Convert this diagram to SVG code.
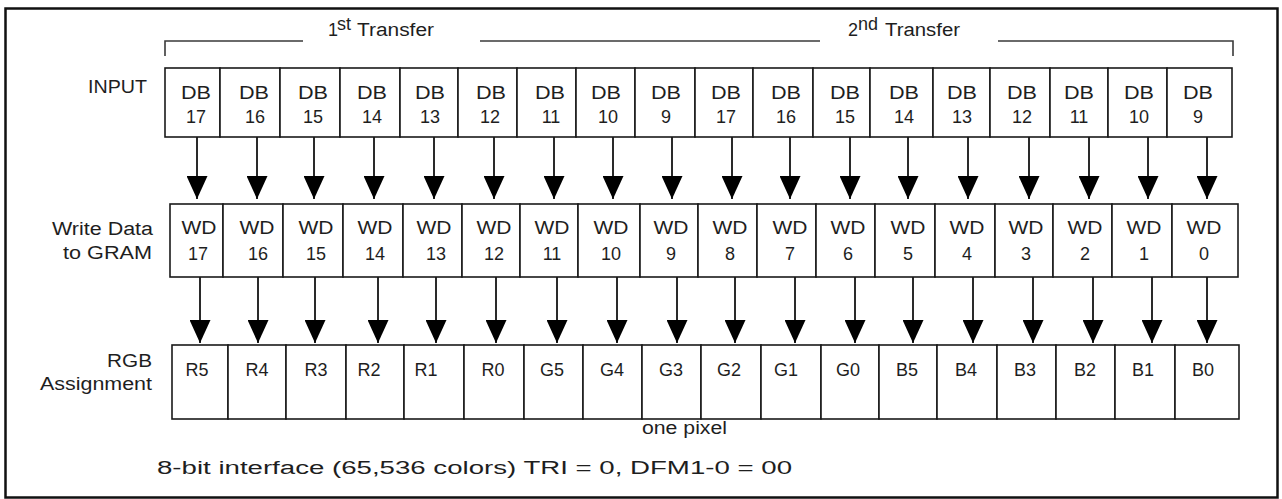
<svg xmlns="http://www.w3.org/2000/svg" width="1282" height="499" viewBox="0 0 1282 499">
<style>
.cell{fill:#fff;stroke:#1a1a1a;stroke-width:1.6}
.t{font-family:"Liberation Sans",Arial,sans-serif;font-size:18px;fill:#1e1e1e;text-anchor:middle}
.lab{font-family:"Liberation Sans",Arial,sans-serif;font-size:18px;fill:#1e1e1e}
.con{stroke:#2a2a2a;stroke-width:2;fill:none}
.br{stroke:#3a3a3a;stroke-width:1.6;fill:none}
</style>
<defs>
<marker id="ah" markerUnits="userSpaceOnUse" markerWidth="23" markerHeight="21" viewBox="0 0 23 21" refX="23" refY="10.5" orient="auto">
<path d="M0,0 L23,10.5 L0,21 Z" fill="#000"/>
</marker>
</defs>
<rect x="0" y="0" width="1282" height="499" fill="#fff"/>
<rect x="5.5" y="8.5" width="1272" height="489" fill="none" stroke="#111" stroke-width="2.5"/>

<g id="brackets">
<path class="br" d="M165,56 V41 H303"/>
<path class="br" d="M480,41 H820"/>
<path class="br" d="M998,41 H1233 V56"/>
<text class="lab" x="328" y="36" font-size="16">1</text>
<text class="lab" x="337" y="30" font-size="10">st</text>
<text class="lab" x="357" y="36" font-size="16" textLength="77" lengthAdjust="spacingAndGlyphs">Transfer</text>
<text class="lab" x="848" y="36" font-size="16">2</text>
<text class="lab" x="858" y="30" font-size="10">nd</text>
<text class="lab" x="885" y="36" font-size="16" textLength="75" lengthAdjust="spacingAndGlyphs">Transfer</text>
</g>

<g id="row-labels">
<text class="lab" x="88" y="93" textLength="59" lengthAdjust="spacingAndGlyphs">INPUT</text>
<text class="lab" x="52" y="235" textLength="101" lengthAdjust="spacingAndGlyphs">Write Data</text>
<text class="lab" x="63" y="259" textLength="89" lengthAdjust="spacingAndGlyphs">to GRAM</text>
<text class="lab" x="107" y="367" textLength="45" lengthAdjust="spacingAndGlyphs">RGB</text>
<text class="lab" x="40" y="390" textLength="112" lengthAdjust="spacingAndGlyphs">Assignment</text>
</g>

<g id="connectors">
<line class="con" x1="197" y1="137" x2="197" y2="199" marker-end="url(#ah)"/>
<line class="con" x1="257" y1="137" x2="257" y2="199" marker-end="url(#ah)"/>
<line class="con" x1="314" y1="137" x2="314" y2="199" marker-end="url(#ah)"/>
<line class="con" x1="374" y1="137" x2="374" y2="199" marker-end="url(#ah)"/>
<line class="con" x1="434" y1="137" x2="434" y2="199" marker-end="url(#ah)"/>
<line class="con" x1="494" y1="137" x2="494" y2="199" marker-end="url(#ah)"/>
<line class="con" x1="554" y1="137" x2="554" y2="199" marker-end="url(#ah)"/>
<line class="con" x1="613" y1="137" x2="613" y2="199" marker-end="url(#ah)"/>
<line class="con" x1="672" y1="137" x2="672" y2="199" marker-end="url(#ah)"/>
<line class="con" x1="732" y1="137" x2="732" y2="199" marker-end="url(#ah)"/>
<line class="con" x1="790" y1="137" x2="790" y2="199" marker-end="url(#ah)"/>
<line class="con" x1="850" y1="137" x2="850" y2="199" marker-end="url(#ah)"/>
<line class="con" x1="908" y1="137" x2="908" y2="199" marker-end="url(#ah)"/>
<line class="con" x1="968" y1="137" x2="968" y2="199" marker-end="url(#ah)"/>
<line class="con" x1="1029" y1="137" x2="1029" y2="199" marker-end="url(#ah)"/>
<line class="con" x1="1089" y1="137" x2="1089" y2="199" marker-end="url(#ah)"/>
<line class="con" x1="1148" y1="137" x2="1148" y2="199" marker-end="url(#ah)"/>
<line class="con" x1="1207" y1="137" x2="1207" y2="199" marker-end="url(#ah)"/>

<line class="con" x1="200" y1="277" x2="200" y2="343" marker-end="url(#ah)"/>
<line class="con" x1="258" y1="277" x2="258" y2="343" marker-end="url(#ah)"/>
<line class="con" x1="315" y1="277" x2="315" y2="343" marker-end="url(#ah)"/>
<line class="con" x1="378" y1="277" x2="378" y2="343" marker-end="url(#ah)"/>
<line class="con" x1="436" y1="277" x2="436" y2="343" marker-end="url(#ah)"/>
<line class="con" x1="496" y1="277" x2="496" y2="343" marker-end="url(#ah)"/>
<line class="con" x1="557" y1="277" x2="557" y2="343" marker-end="url(#ah)"/>
<line class="con" x1="617" y1="277" x2="617" y2="343" marker-end="url(#ah)"/>
<line class="con" x1="677" y1="277" x2="677" y2="343" marker-end="url(#ah)"/>
<line class="con" x1="735" y1="277" x2="735" y2="343" marker-end="url(#ah)"/>
<line class="con" x1="795" y1="277" x2="795" y2="343" marker-end="url(#ah)"/>
<line class="con" x1="855" y1="277" x2="855" y2="343" marker-end="url(#ah)"/>
<line class="con" x1="913" y1="277" x2="913" y2="343" marker-end="url(#ah)"/>
<line class="con" x1="973" y1="277" x2="973" y2="343" marker-end="url(#ah)"/>
<line class="con" x1="1033" y1="277" x2="1033" y2="343" marker-end="url(#ah)"/>
<line class="con" x1="1093" y1="277" x2="1093" y2="343" marker-end="url(#ah)"/>
<line class="con" x1="1152" y1="277" x2="1152" y2="343" marker-end="url(#ah)"/>
<line class="con" x1="1207" y1="277" x2="1207" y2="343" marker-end="url(#ah)"/>
</g>

<g id="input-row">
<g id="in-db17a"><rect class="cell" x="165" y="68" width="55" height="69"/><text class="t" x="196" y="99" textLength="30" lengthAdjust="spacingAndGlyphs">DB</text><text class="t" x="196" y="123">17</text></g>
<g id="in-db16a"><rect class="cell" x="220" y="68" width="60" height="69"/><text class="t" x="254" y="99" textLength="30" lengthAdjust="spacingAndGlyphs">DB</text><text class="t" x="255" y="123">16</text></g>
<g id="in-db15a"><rect class="cell" x="280" y="68" width="60" height="69"/><text class="t" x="313" y="99" textLength="30" lengthAdjust="spacingAndGlyphs">DB</text><text class="t" x="313" y="123">15</text></g>
<g id="in-db14a"><rect class="cell" x="340" y="68" width="60" height="69"/><text class="t" x="372" y="99" textLength="30" lengthAdjust="spacingAndGlyphs">DB</text><text class="t" x="372" y="123">14</text></g>
<g id="in-db13a"><rect class="cell" x="400" y="68" width="58" height="69"/><text class="t" x="430" y="99" textLength="30" lengthAdjust="spacingAndGlyphs">DB</text><text class="t" x="430" y="123">13</text></g>
<g id="in-db12a"><rect class="cell" x="458" y="68" width="59" height="69"/><text class="t" x="491" y="99" textLength="30" lengthAdjust="spacingAndGlyphs">DB</text><text class="t" x="490" y="123">12</text></g>
<g id="in-db11a"><rect class="cell" x="517" y="68" width="59" height="69"/><text class="t" x="550" y="99" textLength="30" lengthAdjust="spacingAndGlyphs">DB</text><text class="t" x="551" y="123">11</text></g>
<g id="in-db10a"><rect class="cell" x="576" y="68" width="59" height="69"/><text class="t" x="606" y="99" textLength="30" lengthAdjust="spacingAndGlyphs">DB</text><text class="t" x="608" y="123">10</text></g>
<g id="in-db9a"><rect class="cell" x="635" y="68" width="60" height="69"/><text class="t" x="666" y="99" textLength="30" lengthAdjust="spacingAndGlyphs">DB</text><text class="t" x="666" y="123">9</text></g>
<g id="in-db17b"><rect class="cell" x="695" y="68" width="58" height="69"/><text class="t" x="726" y="99" textLength="30" lengthAdjust="spacingAndGlyphs">DB</text><text class="t" x="726" y="123">17</text></g>
<g id="in-db16b"><rect class="cell" x="753" y="68" width="60" height="69"/><text class="t" x="786" y="99" textLength="30" lengthAdjust="spacingAndGlyphs">DB</text><text class="t" x="786" y="123">16</text></g>
<g id="in-db15b"><rect class="cell" x="813" y="68" width="57" height="69"/><text class="t" x="845" y="99" textLength="30" lengthAdjust="spacingAndGlyphs">DB</text><text class="t" x="845" y="123">15</text></g>
<g id="in-db14b"><rect class="cell" x="870" y="68" width="63" height="69"/><text class="t" x="904" y="99" textLength="30" lengthAdjust="spacingAndGlyphs">DB</text><text class="t" x="904" y="123">14</text></g>
<g id="in-db13b"><rect class="cell" x="933" y="68" width="57" height="69"/><text class="t" x="962" y="99" textLength="30" lengthAdjust="spacingAndGlyphs">DB</text><text class="t" x="962" y="123">13</text></g>
<g id="in-db12b"><rect class="cell" x="990" y="68" width="60" height="69"/><text class="t" x="1022" y="99" textLength="30" lengthAdjust="spacingAndGlyphs">DB</text><text class="t" x="1022" y="123">12</text></g>
<g id="in-db11b"><rect class="cell" x="1050" y="68" width="58" height="69"/><text class="t" x="1079" y="99" textLength="30" lengthAdjust="spacingAndGlyphs">DB</text><text class="t" x="1079" y="123">11</text></g>
<g id="in-db10b"><rect class="cell" x="1108" y="68" width="59" height="69"/><text class="t" x="1139" y="99" textLength="30" lengthAdjust="spacingAndGlyphs">DB</text><text class="t" x="1139" y="123">10</text></g>
<g id="in-db9b"><rect class="cell" x="1167" y="68" width="65" height="69"/><text class="t" x="1198" y="99" textLength="30" lengthAdjust="spacingAndGlyphs">DB</text><text class="t" x="1198" y="123">9</text></g>
</g>

<g id="wd-row">
<g id="wd17"><rect class="cell" x="170" y="204" width="53" height="73"/><text class="t" x="199" y="234" textLength="35" lengthAdjust="spacingAndGlyphs">WD</text><text class="t" x="198" y="260">17</text></g>
<g id="wd16"><rect class="cell" x="223" y="204" width="60" height="73"/><text class="t" x="257" y="234" textLength="35" lengthAdjust="spacingAndGlyphs">WD</text><text class="t" x="258" y="260">16</text></g>
<g id="wd15"><rect class="cell" x="283" y="204" width="60" height="73"/><text class="t" x="316" y="234" textLength="35" lengthAdjust="spacingAndGlyphs">WD</text><text class="t" x="316" y="260">15</text></g>
<g id="wd14"><rect class="cell" x="343" y="204" width="60" height="73"/><text class="t" x="375" y="234" textLength="35" lengthAdjust="spacingAndGlyphs">WD</text><text class="t" x="375" y="260">14</text></g>
<g id="wd13"><rect class="cell" x="403" y="204" width="59" height="73"/><text class="t" x="434" y="234" textLength="35" lengthAdjust="spacingAndGlyphs">WD</text><text class="t" x="436" y="260">13</text></g>
<g id="wd12"><rect class="cell" x="462" y="204" width="58" height="73"/><text class="t" x="494" y="234" textLength="35" lengthAdjust="spacingAndGlyphs">WD</text><text class="t" x="494" y="260">12</text></g>
<g id="wd11"><rect class="cell" x="520" y="204" width="58" height="73"/><text class="t" x="552" y="234" textLength="35" lengthAdjust="spacingAndGlyphs">WD</text><text class="t" x="552" y="260">11</text></g>
<g id="wd10"><rect class="cell" x="578" y="204" width="62" height="73"/><text class="t" x="611" y="234" textLength="35" lengthAdjust="spacingAndGlyphs">WD</text><text class="t" x="611" y="260">10</text></g>
<g id="wd9"><rect class="cell" x="640" y="204" width="58" height="73"/><text class="t" x="671" y="234" textLength="35" lengthAdjust="spacingAndGlyphs">WD</text><text class="t" x="671" y="260">9</text></g>
<g id="wd8"><rect class="cell" x="698" y="204" width="59" height="73"/><text class="t" x="730" y="234" textLength="35" lengthAdjust="spacingAndGlyphs">WD</text><text class="t" x="730" y="260">8</text></g>
<g id="wd7"><rect class="cell" x="757" y="204" width="59" height="73"/><text class="t" x="790" y="234" textLength="35" lengthAdjust="spacingAndGlyphs">WD</text><text class="t" x="790" y="260">7</text></g>
<g id="wd6"><rect class="cell" x="816" y="204" width="59" height="73"/><text class="t" x="848" y="234" textLength="35" lengthAdjust="spacingAndGlyphs">WD</text><text class="t" x="848" y="260">6</text></g>
<g id="wd5"><rect class="cell" x="875" y="204" width="60" height="73"/><text class="t" x="908" y="234" textLength="35" lengthAdjust="spacingAndGlyphs">WD</text><text class="t" x="908" y="260">5</text></g>
<g id="wd4"><rect class="cell" x="935" y="204" width="60" height="73"/><text class="t" x="967" y="234" textLength="35" lengthAdjust="spacingAndGlyphs">WD</text><text class="t" x="967" y="260">4</text></g>
<g id="wd3"><rect class="cell" x="995" y="204" width="58" height="73"/><text class="t" x="1026" y="234" textLength="35" lengthAdjust="spacingAndGlyphs">WD</text><text class="t" x="1026" y="260">3</text></g>
<g id="wd2"><rect class="cell" x="1053" y="204" width="59" height="73"/><text class="t" x="1085" y="234" textLength="35" lengthAdjust="spacingAndGlyphs">WD</text><text class="t" x="1085" y="260">2</text></g>
<g id="wd1"><rect class="cell" x="1112" y="204" width="60" height="73"/><text class="t" x="1144" y="234" textLength="35" lengthAdjust="spacingAndGlyphs">WD</text><text class="t" x="1144" y="260">1</text></g>
<g id="wd0"><rect class="cell" x="1172" y="204" width="66" height="73"/><text class="t" x="1204" y="234" textLength="35" lengthAdjust="spacingAndGlyphs">WD</text><text class="t" x="1204" y="260">0</text></g>
</g>

<g id="rgb-row">
<g id="r5"><rect class="cell" x="172" y="345" width="56" height="74"/><text class="t" x="197" y="376">R5</text></g>
<g id="r4"><rect class="cell" x="228" y="345" width="58" height="74"/><text class="t" x="257" y="376">R4</text></g>
<g id="r3"><rect class="cell" x="286" y="345" width="60" height="74"/><text class="t" x="316" y="376">R3</text></g>
<g id="r2"><rect class="cell" x="346" y="345" width="58" height="74"/><text class="t" x="369" y="376">R2</text></g>
<g id="r1"><rect class="cell" x="404" y="345" width="60" height="74"/><text class="t" x="426" y="376">R1</text></g>
<g id="r0"><rect class="cell" x="464" y="345" width="60" height="74"/><text class="t" x="493" y="376">R0</text></g>
<g id="g5"><rect class="cell" x="524" y="345" width="59" height="74"/><text class="t" x="552" y="376">G5</text></g>
<g id="g4"><rect class="cell" x="583" y="345" width="59" height="74"/><text class="t" x="612" y="376">G4</text></g>
<g id="g3"><rect class="cell" x="642" y="345" width="59" height="74"/><text class="t" x="671" y="376">G3</text></g>
<g id="g2"><rect class="cell" x="701" y="345" width="60" height="74"/><text class="t" x="729" y="376">G2</text></g>
<g id="g1"><rect class="cell" x="761" y="345" width="60" height="74"/><text class="t" x="786" y="376">G1</text></g>
<g id="g0"><rect class="cell" x="821" y="345" width="58" height="74"/><text class="t" x="848" y="376">G0</text></g>
<g id="b5"><rect class="cell" x="879" y="345" width="58" height="74"/><text class="t" x="907" y="376">B5</text></g>
<g id="b4"><rect class="cell" x="937" y="345" width="60" height="74"/><text class="t" x="966" y="376">B4</text></g>
<g id="b3"><rect class="cell" x="997" y="345" width="59" height="74"/><text class="t" x="1025" y="376">B3</text></g>
<g id="b2"><rect class="cell" x="1056" y="345" width="59" height="74"/><text class="t" x="1085" y="376">B2</text></g>
<g id="b1"><rect class="cell" x="1115" y="345" width="60" height="74"/><text class="t" x="1143" y="376">B1</text></g>
<g id="b0"><rect class="cell" x="1175" y="345" width="64" height="74"/><text class="t" x="1203" y="376">B0</text></g>
</g>

<g id="captions">
<text class="lab" x="642" y="434" font-size="16" textLength="85" lengthAdjust="spacingAndGlyphs">one pixel</text>
<text class="lab" x="157" y="474" font-size="24" textLength="635" lengthAdjust="spacingAndGlyphs">8-bit interface (65,536 colors) TRI = 0, DFM1-0 = 00</text>
</g>
</svg>
